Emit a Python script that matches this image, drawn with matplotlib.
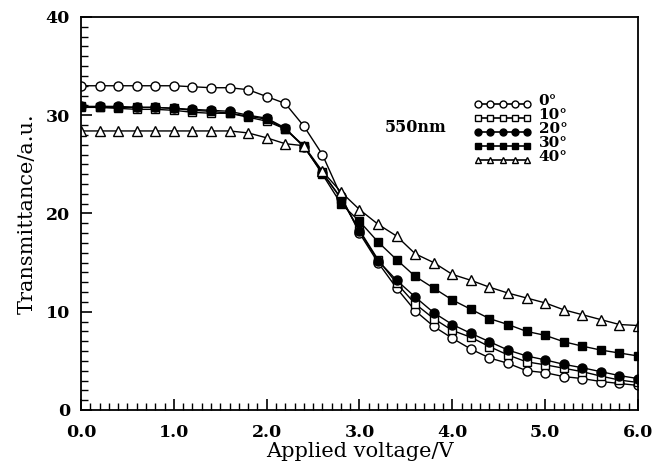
import numpy as np
import matplotlib
matplotlib.use("Agg")
import matplotlib.pyplot as plt
from matplotlib.legend_handler import HandlerLine2D
from matplotlib.ticker import MultipleLocator

voltage = [round(0.2 * i, 1) for i in range(31)]

t_0deg = [33.0, 33.0, 33.0, 33.0, 33.0, 33.0, 32.9, 32.8, 32.8, 32.6, 31.9, 31.2,
          28.9, 26.0, 21.8, 18.0, 15.0, 12.4, 10.1, 8.5, 7.3, 6.2, 5.3, 4.75,
          4.0, 3.8, 3.4, 3.2, 2.9, 2.7, 2.5]
t_10deg = [30.9, 30.8, 30.7, 30.6, 30.6, 30.5, 30.3, 30.2, 30.2, 29.8, 29.4, 28.6,
           26.8, 24.2, 21.5, 18.3, 15.3, 12.9, 10.8, 9.3, 8.1, 7.4, 6.45, 5.6,
           4.9, 4.6, 4.25, 3.9, 3.45, 3.05, 2.8]
t_20deg = [30.9, 30.9, 30.9, 30.8, 30.8, 30.7, 30.6, 30.5, 30.4, 30.0, 29.7, 28.7,
           26.8, 24.1, 21.6, 18.2, 15.2, 13.2, 11.5, 9.9, 8.7, 7.8, 6.95, 6.1,
           5.5, 5.1, 4.65, 4.3, 3.9, 3.5, 3.2]
t_30deg = [30.8, 30.8, 30.8, 30.8, 30.8, 30.7, 30.5, 30.4, 30.2, 29.9, 29.6, 28.6,
           26.9, 24.0, 21.0, 19.2, 17.1, 15.3, 13.6, 12.4, 11.2, 10.25, 9.3, 8.7,
           8.0, 7.6, 6.95, 6.5, 6.1, 5.8, 5.5]
t_40deg = [28.4, 28.4, 28.4, 28.4, 28.4, 28.4, 28.4, 28.4, 28.4, 28.2, 27.7, 27.1,
           26.9, 24.3, 22.2, 20.4, 18.9, 17.7, 15.9, 15.0, 13.8, 13.2, 12.5, 11.9,
           11.4, 10.9, 10.2, 9.7, 9.2, 8.7, 8.6]

labels = ["0°", "10°", "20°", "30°", "40°"]
series = [t_0deg, t_10deg, t_20deg, t_30deg, t_40deg]
markers = ["o", "s", "o", "s", "^"]
faces = ["white", "white", "black", "black", "white"]

fig = plt.figure(figsize=(6.62, 4.69), dpi=100)
ax = fig.add_axes([0.1224, 0.1258, 0.8413, 0.838])

handles = []
for y, lab, m, fc in zip(series, labels, markers, faces):
    ms = 6.5 if m != "s" else 6.0
    h, = ax.plot(voltage, y, color="black", lw=1.0, marker=m, ms=ms,
                 mfc=fc, mec="black", mew=1.0, label=lab)
    handles.append(h)

ax.set_xlim(0, 6)
ax.set_ylim(0, 40)
ax.xaxis.set_major_locator(MultipleLocator(1.0))
ax.xaxis.set_minor_locator(MultipleLocator(0.1))
ax.yaxis.set_major_locator(MultipleLocator(10))
ax.yaxis.set_minor_locator(MultipleLocator(1))
ax.tick_params(which="both", direction="in", top=False, right=False)
ax.tick_params(which="major", length=8, width=1.2)
ax.tick_params(which="minor", length=5, width=1.0)
for s in ax.spines.values():
    s.set_linewidth(1.3)

tickfont = dict(family="DejaVu Serif", weight="bold", size=12.5)
ax.set_xticks(np.arange(0, 6.01, 1.0))
ax.set_xticklabels([f"{v:.1f}" for v in np.arange(0, 6.01, 1.0)], fontdict=tickfont)
ax.set_yticks([0, 10, 20, 30, 40])
ax.set_yticklabels(["0", "10", "20", "30", "40"], fontdict=tickfont)
ax.tick_params(axis="x", pad=10)
ax.tick_params(axis="y", pad=8)

ax.set_xlabel("Applied voltage/V", family="DejaVu Serif", size=15, labelpad=1)
ax.set_ylabel("Transmittance/a.u.", family="DejaVu Serif", size=15, labelpad=6)

ax.text(3.27, 28.8, "550nm", family="DejaVu Serif", weight="bold", size=11.5,
        ha="left", va="center")


class HandlerUnder(HandlerLine2D):
    def create_artists(self, legend, orig_handle, xdescent, ydescent, width,
                       height, fontsize, trans):
        arts = super().create_artists(legend, orig_handle, xdescent, ydescent,
                                      width, height, fontsize, trans)
        for a in arts:
            if a.get_linestyle() not in ("None", "none", ""):
                yd = a.get_ydata()
                a.set_ydata(np.asarray(yd) - height * 0.45)
                a.set_linewidth(1.2)
        return arts


leg = ax.legend(handles=handles, loc="upper left", bbox_to_anchor=(0.705, 0.805),
                frameon=False, numpoints=5, handlelength=3.8, handletextpad=0.45,
                labelspacing=0.0, borderaxespad=0, borderpad=0,
                prop=dict(family="DejaVu Serif", weight="bold", size=11),
                handler_map={matplotlib.lines.Line2D: HandlerUnder()})
for h in leg.legend_handles:
    h.set_markersize(5)

fig.savefig("out.png", dpi=100)
